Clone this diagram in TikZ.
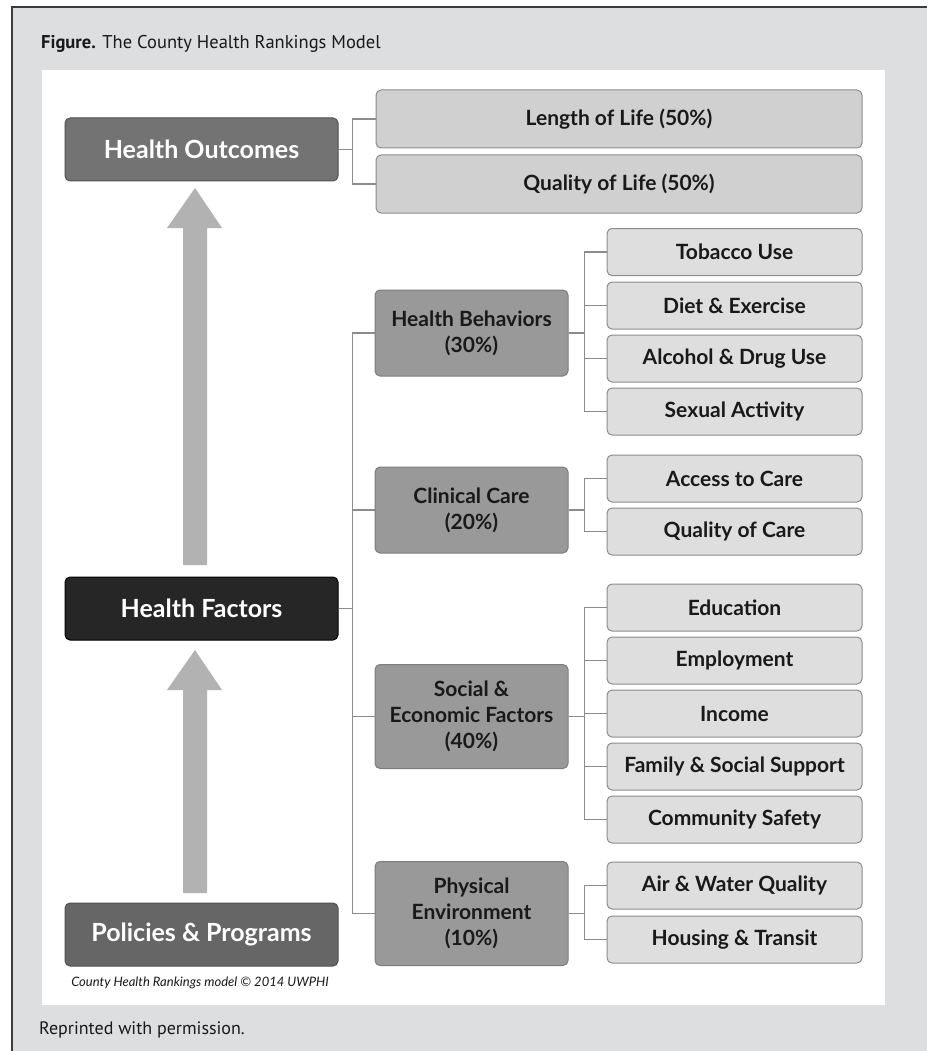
\documentclass[tikz,border=0pt]{standalone}
\usepackage{fontspec}
\setmainfont{Lato}
\newfontfamily\capfont{PT Sans}
\definecolor{framegray}{RGB}{221,222,224}
\definecolor{framedark}{RGB}{60,60,60}
\definecolor{hofill}{RGB}{115,115,115}
\definecolor{hfborder}{RGB}{80,80,80}
\definecolor{hffill}{RGB}{38,38,38}
\definecolor{ppfill}{RGB}{102,102,102}
\definecolor{midfill}{RGB}{153,153,153}
\definecolor{midborder}{RGB}{125,125,125}
\definecolor{outfill}{RGB}{208,208,208}
\definecolor{leaffill}{RGB}{222,222,222}
\definecolor{leafborder}{RGB}{140,140,140}
\definecolor{conncol}{RGB}{140,140,140}
\definecolor{arrowcol}{RGB}{178,178,178}
\definecolor{txt}{RGB}{25,25,25}
\begin{document}
\begin{tikzpicture}[x=1pt,y=-1pt,
  box/.style={rounded corners=5pt, draw, line width=1pt, inner sep=0pt, align=center},
  mainbox/.style={box, minimum width=273, minimum height=63, text=white, draw=hfborder,
     font=\fontsize{25}{30}\selectfont\bfseries},
  outbox/.style={box, minimum width=486, minimum height=58, fill=outfill, draw=leafborder, text=txt,
     font=\fontsize{21}{26}\selectfont\bfseries},
  midbox/.style={box, minimum width=193, fill=midfill, draw=midborder, text=txt,
     font=\fontsize{21}{26}\selectfont\bfseries},
  leafbox/.style={box, minimum width=255, minimum height=47, fill=leaffill, draw=leafborder, text=txt,
     font=\fontsize{21}{26}\selectfont\bfseries},
  conn/.style={draw=conncol, line width=1.5pt},
  bigarrow/.style={fill=arrowcol}
]
\useasboundingbox (0,0) rectangle (927,1051);
% frame
\fill[framegray] (12,7) rectangle (927,1051);
\draw[framedark, line width=1.5pt] (12,1051) -- (12,7) -- (927,7);
\fill[white] (42,70) rectangle (885,1005);
% captions
\node[anchor=west, inner sep=0pt, text=txt, font=\capfont\fontsize{18.5}{22}\selectfont] (title) at (41,44)
  {\textbf{Figure.} The County Health Rankings Model};
\node[anchor=west, inner sep=0pt, text=txt, font=\capfont\fontsize{18}{22}\selectfont] (reprint) at (39,1030)
  {Reprinted with permission.};
\node[inner sep=0pt, text=txt, font=\fontsize{13}{16}\selectfont\itshape] (copy) at (200,983)
  {County Health Rankings model \textcopyright\ 2014 UWPHI};
% main column
\node[mainbox, fill=hofill] (HO) at (201.5,149.5) {Health Outcomes};
\node[mainbox, fill=hffill, draw=black] (HF) at (201.5,608.5) {Health Factors};
\node[mainbox, fill=ppfill] (PP) at (201.5,934.5) {Policies \& Programs};
% arrows
\fill[bigarrow] (183,565) -- (183,228) -- (167,228) -- (195,188) -- (222,228) -- (207,228) -- (207,565) -- cycle;
\fill[bigarrow] (183,893) -- (183,690) -- (167,690) -- (195,650) -- (222,690) -- (207,690) -- (207,893) -- cycle;
% outcomes
\node[outbox] (LL) at (619,119) {\raisebox{-2pt}{Length of Life (50\%)}};
\node[outbox] (QL) at (619,184) {\raisebox{-1pt}{Quality of Life (50\%)}};
% factor groups
\node[midbox, minimum height=86] (HB) at (471.5,333) {Health Behaviors\\(30\%)};
\node[midbox, minimum height=86] (CC) at (471.5,510) {Clinical Care\\(20\%)};
\node[midbox, minimum height=104] (SE) at (471.5,716.5) {Social \&\\Economic Factors\\(40\%)};
\node[midbox, minimum height=104] (PE) at (471.5,913.5) {Physical\\Environment\\(10\%)};
% leaves
\node[leafbox] (TU) at (734.5,252) {Tobacco Use};
\node[leafbox] (DE) at (734.5,305.5) {Diet \& Exercise};
\node[leafbox] (AD) at (734.5,358.5) {Alcohol \& Drug Use};
\node[leafbox] (SA) at (734.5,411.5) {Sexual Activity};
\node[leafbox] (AC) at (734.5,478.5) {Access to Care};
\node[leafbox] (QC) at (734.5,531.5) {Quality of Care};
\node[leafbox] (ED) at (734.5,607.5) {Education};
\node[leafbox] (EM) at (734.5,660.5) {Employment};
\node[leafbox] (IN) at (734.5,713.5) {Income};
\node[leafbox] (FS) at (734.5,766.5) {Family \& Social Support};
\node[leafbox] (CS) at (734.5,819.5) {Community Safety};
\node[leafbox] (AW) at (734.5,885.5) {Air \& Water Quality};
\node[leafbox] (HT) at (734.5,939.5) {Housing \& Transit};
% connectors
\foreach \t in {LL,QL} \draw[conn] (HO.east) -- ++(14,0) |- (\t.west);
\foreach \t in {HB,CC,SE,PE} \draw[conn] (HF.east) -- ++(14,0) |- (\t.west);
\foreach \t in {TU,DE,AD,SA} \draw[conn] (HB.east) -- ++(16,0) |- (\t.west);
\foreach \t in {AC,QC} \draw[conn] (CC.east) -- ++(16,0) |- (\t.west);
\foreach \t in {ED,EM,IN,FS,CS} \draw[conn] (SE.east) -- ++(16,0) |- (\t.west);
\foreach \t in {AW,HT} \draw[conn] (PE.east) -- ++(16,0) |- (\t.west);
\end{tikzpicture}
\end{document}
